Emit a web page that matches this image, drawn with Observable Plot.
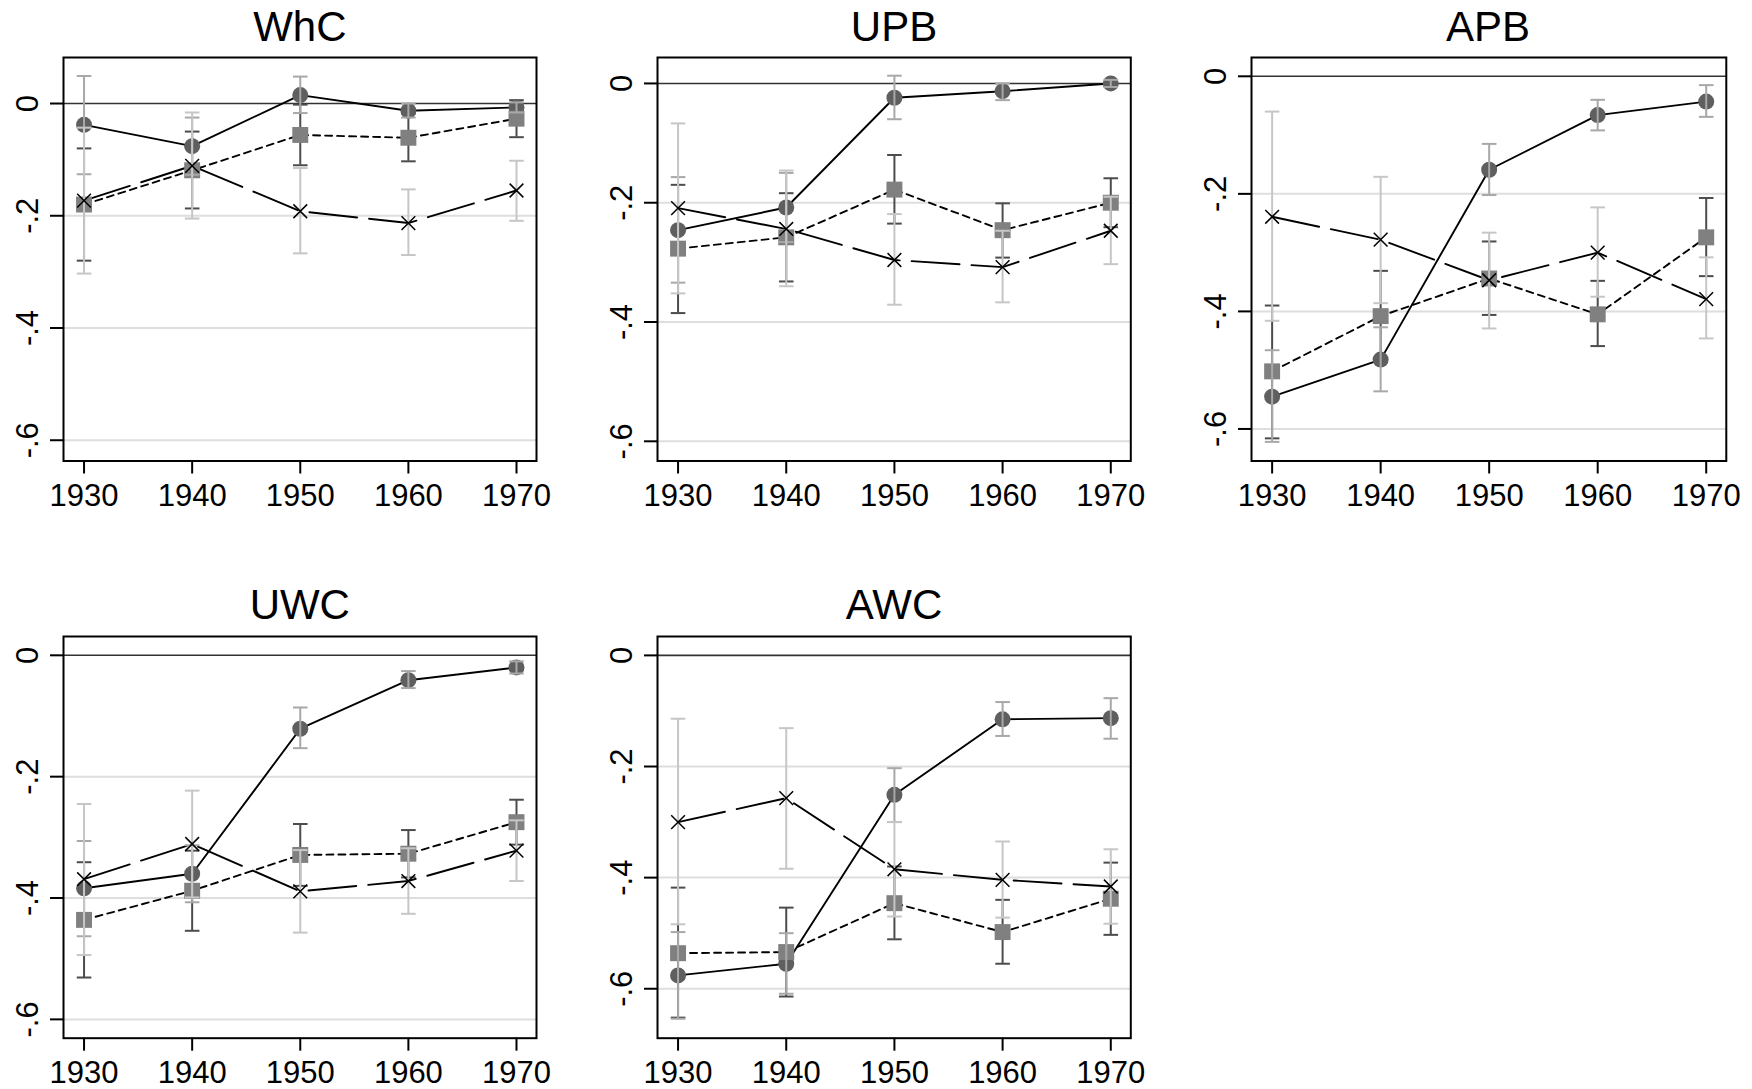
<!DOCTYPE html>
<html>
<head>
<meta charset="utf-8">
<script src="https://cdn.jsdelivr.net/npm/d3@7"></script>
<script src="https://cdn.jsdelivr.net/npm/@observablehq/plot@0.6"></script>
<style>
  html, body { margin: 0; padding: 0; background: #ffffff; }
  #root { position: relative; width: 1752px; height: 1089px; overflow: hidden; background: #ffffff;
          font-family: "Liberation Sans", Arial, sans-serif; }
  .title { position: absolute; width: 300px; text-align: center; font-size: 42px; line-height: 42px;
           color: #000; white-space: nowrap; }
  .panel { position: absolute; }
</style>
</head>
<body>
<div id="root"></div>
<script>
// ---------------- data ----------------
const years = [1930, 1940, 1950, 1960, 1970];
const yTicks = [0, -0.2, -0.4, -0.6];
const panelNames = ["WhC", "UPB", "APB", "UWC", "AWC"];

// WhC
const whcCircle   = [-0.038, -0.076,  0.015, -0.013, -0.007];
const whcCircleHi = [ 0.049, -0.025,  0.048,  0.000,  0.002];
const whcCircleLo = [-0.126, -0.127, -0.017, -0.025, -0.016];
const whcSquare   = [-0.180, -0.119, -0.056, -0.061, -0.027];
const whcSquareHi = [-0.080, -0.050, -0.002, -0.018,  0.006];
const whcSquareLo = [-0.280, -0.187, -0.110, -0.103, -0.060];
const whcCross    = [-0.173, -0.111, -0.192, -0.213, -0.155];
const whcCrossHi  = [-0.043, -0.016, -0.115, -0.153, -0.102];
const whcCrossLo  = [-0.303, -0.205, -0.267, -0.270, -0.209];

// UPB
const upbCircle   = [-0.246, -0.208, -0.024, -0.013,  0.000];
const upbCircleHi = [-0.157, -0.150,  0.013,  0.000,  0.006];
const upbCircleLo = [-0.334, -0.266, -0.060, -0.028, -0.006];
const upbSquare   = [-0.277, -0.258, -0.178, -0.246, -0.200];
const upbSquareHi = [-0.170, -0.184, -0.120, -0.201, -0.159];
const upbSquareLo = [-0.385, -0.332, -0.235, -0.292, -0.241];
const upbCross    = [-0.209, -0.244, -0.296, -0.308, -0.247];
const upbCrossHi  = [-0.067, -0.146, -0.219, -0.247, -0.190];
const upbCrossLo  = [-0.352, -0.340, -0.371, -0.367, -0.303];

// APB
const apbCircle   = [-0.545, -0.482, -0.159, -0.066, -0.043];
const apbCircleHi = [-0.466, -0.427, -0.115, -0.040, -0.015];
const apbCircleLo = [-0.622, -0.536, -0.202, -0.092, -0.069];
const apbSquare   = [-0.502, -0.408, -0.344, -0.405, -0.274];
const apbSquareHi = [-0.390, -0.331, -0.281, -0.348, -0.207];
const apbSquareLo = [-0.616, -0.485, -0.406, -0.459, -0.340];
const apbCross    = [-0.239, -0.278, -0.347, -0.300, -0.379];
const apbCrossHi  = [-0.060, -0.171, -0.266, -0.223, -0.308];
const apbCrossLo  = [-0.416, -0.386, -0.429, -0.375, -0.446];

// UWC
const uwcCircle   = [-0.384, -0.360, -0.121, -0.041, -0.020];
const uwcCircleHi = [-0.306, -0.313, -0.086, -0.026, -0.010];
const uwcCircleLo = [-0.463, -0.407, -0.153, -0.054, -0.030];
const uwcSquare   = [-0.436, -0.388, -0.329, -0.327, -0.275];
const uwcSquareHi = [-0.341, -0.322, -0.278, -0.288, -0.238];
const uwcSquareLo = [-0.531, -0.454, -0.380, -0.366, -0.312];
const uwcCross    = [-0.369, -0.311, -0.389, -0.372, -0.322];
const uwcCrossHi  = [-0.245, -0.223, -0.321, -0.318, -0.272];
const uwcCrossLo  = [-0.494, -0.399, -0.457, -0.426, -0.372];

// AWC
const awcCircle   = [-0.576, -0.555, -0.251, -0.115, -0.113];
const awcCircleHi = [-0.498, -0.500, -0.203, -0.084, -0.077];
const awcCircleLo = [-0.654, -0.609, -0.300, -0.145, -0.150];
const awcSquare   = [-0.536, -0.534, -0.446, -0.498, -0.438];
const awcSquareHi = [-0.418, -0.454, -0.380, -0.440, -0.373];
const awcSquareLo = [-0.652, -0.614, -0.511, -0.555, -0.503];
const awcCross    = [-0.300, -0.257, -0.385, -0.404, -0.416];
const awcCrossHi  = [-0.114, -0.131, -0.300, -0.335, -0.349];
const awcCrossLo  = [-0.484, -0.384, -0.470, -0.472, -0.483];

// ---------------- layout ----------------
const colFrames = [[63.3, 536.3], [657.4, 1130.7], [1250.7, 1725.5]];
const rowFrames = [[57, 460.5], [636, 1037.7]];
const titleBaselines = [42, 620];
const xDomain = [1928.1, 1971.85];
const yDomains = {
  WhC: [-0.637, 0.082],
  UPB: [-0.633, 0.0435],
  APB: [-0.6545, 0.032],
  UWC: [-0.631, 0.031],
  AWC: [-0.689, 0.034]
};
const positions = { WhC: [0, 0], UPB: [1, 0], APB: [2, 0], UWC: [0, 1], AWC: [1, 1] };

function rows(est, lo, hi) {
  return years.map((year, i) => ({ year, est: est[i], lo: lo[i], hi: hi[i] }));
}

const seriesByPanel = {
  WhC: { circle: rows(whcCircle, whcCircleLo, whcCircleHi), square: rows(whcSquare, whcSquareLo, whcSquareHi), cross: rows(whcCross, whcCrossLo, whcCrossHi) },
  UPB: { circle: rows(upbCircle, upbCircleLo, upbCircleHi), square: rows(upbSquare, upbSquareLo, upbSquareHi), cross: rows(upbCross, upbCrossLo, upbCrossHi) },
  APB: { circle: rows(apbCircle, apbCircleLo, apbCircleHi), square: rows(apbSquare, apbSquareLo, apbSquareHi), cross: rows(apbCross, apbCrossLo, apbCrossHi) },
  UWC: { circle: rows(uwcCircle, uwcCircleLo, uwcCircleHi), square: rows(uwcSquare, uwcSquareLo, uwcSquareHi), cross: rows(uwcCross, uwcCrossLo, uwcCrossHi) },
  AWC: { circle: rows(awcCircle, awcCircleLo, awcCircleHi), square: rows(awcSquare, awcSquareLo, awcSquareHi), cross: rows(awcCross, awcCrossLo, awcCrossHi) }
};

// ---------------- styles ----------------
const circleFill = "#5f5f5f";
const squareFill = "#808080";
const circleCI = "#a8a8a8";
const squareCI = "#4c4c4c";
const crossCI = "#c6c6c6";
const gridColor = "#dedede";

const capSymbol = {
  draw(ctx, size) {
    const r = Math.sqrt(size / Math.PI);
    ctx.moveTo(-r, 0);
    ctx.lineTo(r, 0);
  }
};

function ciMarks(data, color) {
  return [
    Plot.ruleX(data, { x: "year", y1: "lo", y2: "hi", stroke: color, strokeWidth: 2 }),
    Plot.dot(data, { x: "year", y: "lo", symbol: capSymbol, r: 7.3, stroke: color, strokeWidth: 2, fill: "none" }),
    Plot.dot(data, { x: "year", y: "hi", symbol: capSymbol, r: 7.3, stroke: color, strokeWidth: 2, fill: "none" })
  ];
}

const yFmt = d => d === 0 ? "0" : d.toFixed(1).replace("0.", ".");

const root = document.getElementById("root");

for (const name of panelNames) {
  const [col, row] = positions[name];
  const [fl, fr] = colFrames[col];
  const [ft, fb] = rowFrames[row];
  const mL = 64, mR = 26, mT = 10, mB = 52;
  const s = seriesByPanel[name];

  const chart = Plot.plot({
    width: fr - fl + mL + mR,
    height: fb - ft + mT + mB,
    marginLeft: mL, marginRight: mR, marginTop: mT, marginBottom: mB,
    style: { fontFamily: "'Liberation Sans', Arial, sans-serif", color: "#000", background: "#fff", overflow: "visible" },
    x: { domain: xDomain, label: null },
    y: { domain: yDomains[name], label: null },
    marks: [
      Plot.ruleY(yTicks.filter(d => d !== 0), { stroke: gridColor, strokeWidth: 2 }),
      Plot.ruleY([0], { stroke: "#333", strokeWidth: 1.6 }),
      ...ciMarks(s.square, squareCI),
      Plot.line(s.circle, { x: "year", y: "est", stroke: "#000", strokeWidth: 1.9 }),
      Plot.line(s.square, { x: "year", y: "est", stroke: "#000", strokeWidth: 1.9, strokeDasharray: "7,5" }),
      Plot.line(s.cross, { x: "year", y: "est", stroke: "#000", strokeWidth: 1.9, strokeDasharray: "48,12" }),
      Plot.dot(s.circle, { x: "year", y: "est", symbol: "circle", r: 8, fill: circleFill, stroke: "none" }),
      Plot.dot(s.square, { x: "year", y: "est", symbol: "square", r: 9, fill: squareFill, stroke: "none" }),
      ...ciMarks(s.circle, circleCI),
      ...ciMarks(s.cross, crossCI),
      Plot.dot(s.cross, { x: "year", y: "est", symbol: "times", r: 6.3, stroke: "#000", strokeWidth: 1.5 }),
      Plot.frame({ stroke: "#000", strokeWidth: 2 }),
      Plot.axisX({ ticks: years, tickFormat: d => String(d), tickSize: 13, tickPadding: 10, fontSize: 31, strokeWidth: 2, label: null }),
      Plot.axisY({ ticks: yTicks, tickFormat: yFmt, tickSize: 13, tickPadding: 13, tickRotate: -90, fontSize: 31, strokeWidth: 2, label: null })
    ]
  });

  const wrap = document.createElement("div");
  wrap.className = "panel";
  wrap.style.left = (fl - mL) + "px";
  wrap.style.top = (ft - mT) + "px";
  wrap.appendChild(chart);
  root.appendChild(wrap);

  const title = document.createElement("div");
  title.className = "title";
  title.textContent = name;
  title.style.left = ((fl + fr) / 2 - 150) + "px";
  title.style.top = (titleBaselines[row] - 35.6) + "px";
  root.appendChild(title);
}
</script>
</body>
</html>
